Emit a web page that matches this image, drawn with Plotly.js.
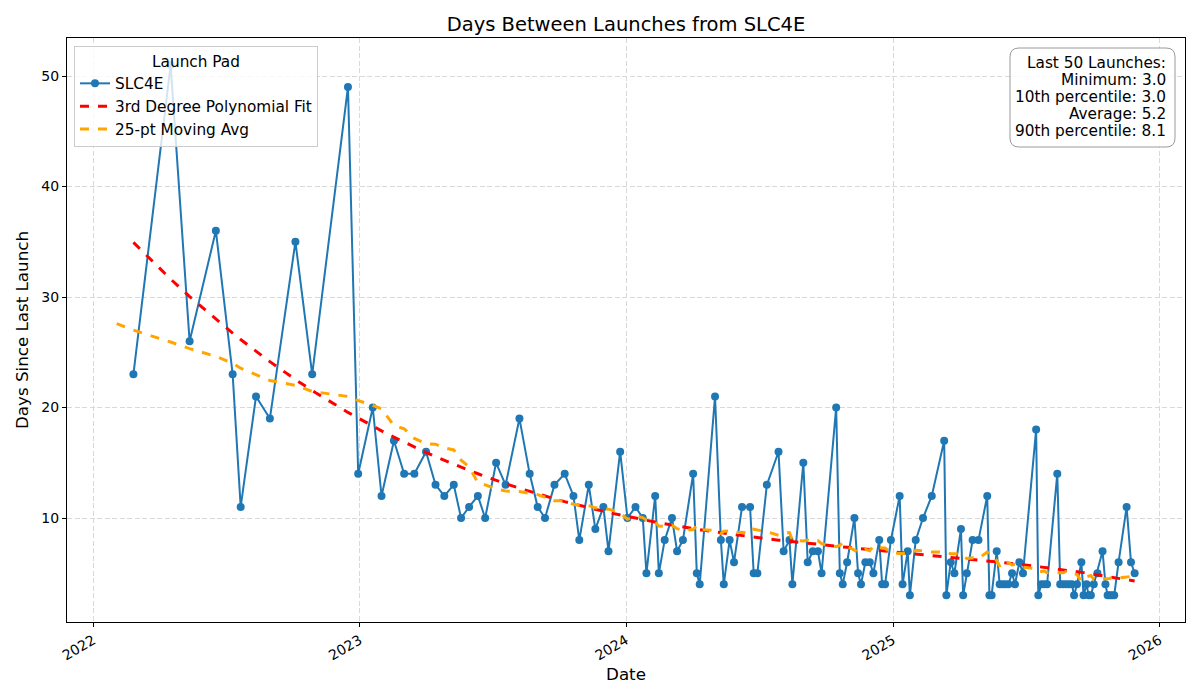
<!DOCTYPE html>
<html>
<head>
<meta charset="utf-8">
<script src="https://cdn.plot.ly/plotly-3.0.1.min.js"></script>
<style>
  html, body { margin: 0; padding: 0; background: #ffffff; }
  #chart { width: 1200px; height: 700px; }
</style>
</head>
<body>
<div id="chart"></div>
<script>
// ---------------- DATA ----------------
// Launch date of the first SLC4E launch in the record (it has no "days since last").
var firstLaunch = "2022-02-02";
// Days since the previous SLC4E launch, for each following launch, in order.
var daysSince = [
  23, 51, 26, 36, 23, 11, 21, 19, 35, 23, 49, 14, 20, 12, 17, 14, 14, 16, 13, 12,
  13, 10, 11, 12, 10, 15, 13, 19, 14, 11, 10, 13, 14, 12, 8, 13, 9, 11, 7, 16,
  10, 11, 10, 5, 12, 5, 8, 10, 7, 8, 14, 5, 4, 21, 8, 4, 8, 6, 11, 11,
  5, 5, 13, 16, 7, 8, 4, 15, 6, 7, 7, 5, 20, 5, 4, 6, 10, 5, 4, 6,
  6, 5, 8, 4, 4, 8, 12, 4, 7, 3, 8, 10, 12, 17, 3, 6, 5, 9, 3, 5,
  8, 8, 12, 3, 3, 7, 4, 4, 4, 4, 5, 4, 6, 5, 18, 3, 4, 4, 4, 14,
  4, 4, 4, 4, 4, 3, 4, 6, 3, 4, 3, 3, 4, 5, 7, 4, 3, 3, 3, 3,
  6, 11, 6, 5
];
var statLines = [
  "Last 50 Launches:",
  "Minimum: 3.0",
  "10th percentile: 3.0",
  "Average: 5.2",
  "90th percentile: 8.1"
];
var xTickVals = ["2022-01-01", "2023-01-01", "2024-01-01", "2025-01-01", "2026-01-01"];
var xTickText = ["2022", "2023", "2024", "2025", "2026"];
var yTickVals = [10, 20, 30, 40, 50];

// ---------------- derived series ----------------
var DAY = 86400000;
function toISO(ms) { return new Date(ms).toISOString().slice(0, 10); }
var t0 = Date.parse(firstLaunch + "T00:00:00Z");
var allMs = [t0];
var allVals = [null];
for (var i = 0; i < daysSince.length; i++) {
  allMs.push(allMs[allMs.length - 1] + daysSince[i] * DAY);
  allVals.push(daysSince[i]);
}
var allDates = allMs.map(toISO);
var launchDates = allDates.slice(1);

// 25-point centred moving average (min 1 valid value per window)
var maVals = [];
for (var i = 0; i < allVals.length; i++) {
  var s = 0, c = 0;
  for (var j = i - 12; j <= i + 12; j++) {
    if (j >= 0 && j < allVals.length && allVals[j] !== null) { s += allVals[j]; c++; }
  }
  maVals.push(c ? s / c : null);
}

// 3rd-degree least-squares polynomial fit
var xs = allMs.slice(1).map(function (m) { return m / DAY; });
var mean = xs.reduce(function (a, b) { return a + b; }, 0) / xs.length;
var sd = Math.sqrt(xs.reduce(function (a, b) { return a + (b - mean) * (b - mean); }, 0) / xs.length);
var ts = xs.map(function (x) { return (x - mean) / sd; });
var deg = 3, M = [], R = [];
for (var r = 0; r <= deg; r++) {
  M.push([]); R.push(0);
  for (var c2 = 0; c2 <= deg; c2++) {
    var sum = 0;
    for (var k = 0; k < ts.length; k++) sum += Math.pow(ts[k], r + c2);
    M[r].push(sum);
  }
  for (var k = 0; k < ts.length; k++) R[r] += daysSince[k] * Math.pow(ts[k], r);
}
for (var p = 0; p <= deg; p++) {
  var piv = p;
  for (var q = p + 1; q <= deg; q++) if (Math.abs(M[q][p]) > Math.abs(M[piv][p])) piv = q;
  var tmp = M[p]; M[p] = M[piv]; M[piv] = tmp;
  var tr = R[p]; R[p] = R[piv]; R[piv] = tr;
  for (var q = p + 1; q <= deg; q++) {
    var f = M[q][p] / M[p][p];
    for (var c3 = p; c3 <= deg; c3++) M[q][c3] -= f * M[p][c3];
    R[q] -= f * R[p];
  }
}
var coef = new Array(deg + 1);
for (var p = deg; p >= 0; p--) {
  var s2 = R[p];
  for (var c4 = p + 1; c4 <= deg; c4++) s2 -= M[p][c4] * coef[c4];
  coef[p] = s2 / M[p][p];
}
var fitVals = ts.map(function (t) {
  return coef[0] + coef[1] * t + coef[2] * t * t + coef[3] * t * t * t;
});

// ---------------- layout geometry ----------------
var W = 1200, H = 700;
var mL = 67, mR = 15, mT = 38, mB = 78;
var pw = W - mL - mR, ph = H - mT - mB;
function px(x) { return (x - mL) / pw; }
function py(y) { return 1 - (y - mT) / ph; }

// rounded stats box
function roundedBox(x0, y0, x1, y1, rad) {
  var X0 = px(x0), X1 = px(x1), Y0 = py(y0), Y1 = py(y1);
  var rx = rad / pw, ry = rad / ph;
  return "M " + (X0 + rx) + "," + Y0 +
    " L " + (X1 - rx) + "," + Y0 + " Q " + X1 + "," + Y0 + " " + X1 + "," + (Y0 - ry) +
    " L " + X1 + "," + (Y1 + ry) + " Q " + X1 + "," + Y1 + " " + (X1 - rx) + "," + Y1 +
    " L " + (X0 + rx) + "," + Y1 + " Q " + X0 + "," + Y1 + " " + X0 + "," + (Y1 + ry) +
    " L " + X0 + "," + (Y0 - ry) + " Q " + X0 + "," + Y0 + " " + (X0 + rx) + "," + Y0 + " Z";
}

var FONT = "DejaVu Sans, Liberation Sans, sans-serif";
var GRIDDASH = "5px,2.5px";

var traces = [
  {
    x: launchDates, y: daysSince, type: "scatter", mode: "lines+markers",
    name: "SLC4E", legendgroup: "a",
    line: { color: "#1f77b4", width: 2 },
    marker: { color: "#1f77b4", size: 8 }
  },
  {
    x: launchDates, y: fitVals, type: "scatter", mode: "lines",
    name: "3rd Degree Polynomial Fit", legendgroup: "b",
    line: { color: "#ff0000", width: 3, dash: "dash" }
  },
  {
    x: allDates, y: maVals, type: "scatter", mode: "lines",
    name: "25-pt Moving Avg", legendgroup: "c",
    line: { color: "#ffa500", width: 3, dash: "dash" }
  }
];

var annotations = statLines.map(function (t, idx) {
  return {
    xref: "paper", yref: "paper",
    x: px(1168), y: py(63 + idx * 17), xanchor: "right", yanchor: "middle",
    align: "right", showarrow: false,
    text: t,
    font: { family: FONT, size: 15.3, color: "#000" }
  };
});

var layout = {
  width: W, height: H,
  margin: { l: mL, r: mR, t: mT, b: mB, pad: 0 },
  paper_bgcolor: "#ffffff", plot_bgcolor: "#ffffff",
  font: { family: FONT, size: 14, color: "#000000" },
  title: {
    text: "Days Between Launches from SLC4E",
    font: { family: FONT, size: 19.5, color: "#000000" },
    x: 0.5, xref: "paper", xanchor: "center",
    y: 1 - 24 / H, yref: "container", yanchor: "middle"
  },
  xaxis: {
    type: "date",
    range: ["2021-11-26", "2026-02-05"],
    tickmode: "array", tickvals: xTickVals, ticktext: xTickText,
    tickangle: -30,
    tickfont: { family: FONT, size: 14 },
    ticks: "outside", ticklen: 4, tickwidth: 1, tickcolor: "#000",
    showline: true, linecolor: "#000", linewidth: 1, mirror: true,
    showgrid: true, gridcolor: "#d9d9d9", gridwidth: 1, griddash: GRIDDASH,
    zeroline: false,
    title: { text: "Date", font: { family: FONT, size: 16.7 }, standoff: 6 },
    automargin: false
  },
  yaxis: {
    range: [0.59, 53.44],
    tickmode: "array", tickvals: yTickVals,
    tickfont: { family: FONT, size: 14 },
    ticks: "outside", ticklen: 4, tickwidth: 1, tickcolor: "#000",
    showline: true, linecolor: "#000", linewidth: 1, mirror: true,
    showgrid: true, gridcolor: "#d9d9d9", gridwidth: 1, griddash: GRIDDASH,
    zeroline: false,
    title: { text: "Days Since Last Launch", font: { family: FONT, size: 16.7 }, standoff: 8 },
    automargin: false
  },
  showlegend: true,
  legend: {
    x: px(74), y: py(46), xanchor: "left", yanchor: "top",
    bgcolor: "rgba(255,255,255,0.8)", bordercolor: "#cccccc", borderwidth: 1,
    font: { family: FONT, size: 15.3 },
    title: { text: "Launch Pad", side: "top center", font: { family: FONT, size: 15.3 } },
    traceorder: "grouped", tracegroupgap: 0,
    itemwidth: 30
  },
  shapes: [
    {
      type: "path", xref: "paper", yref: "paper",
      path: roundedBox(1010, 48, 1175, 147, 9),
      line: { color: "#9a9a9a", width: 1 },
      fillcolor: "rgba(255,255,255,0.85)",
      layer: "above"
    }
  ],
  annotations: annotations
};

Plotly.newPlot("chart", traces, layout, { displayModeBar: false, staticPlot: true });
</script>
</body>
</html>
